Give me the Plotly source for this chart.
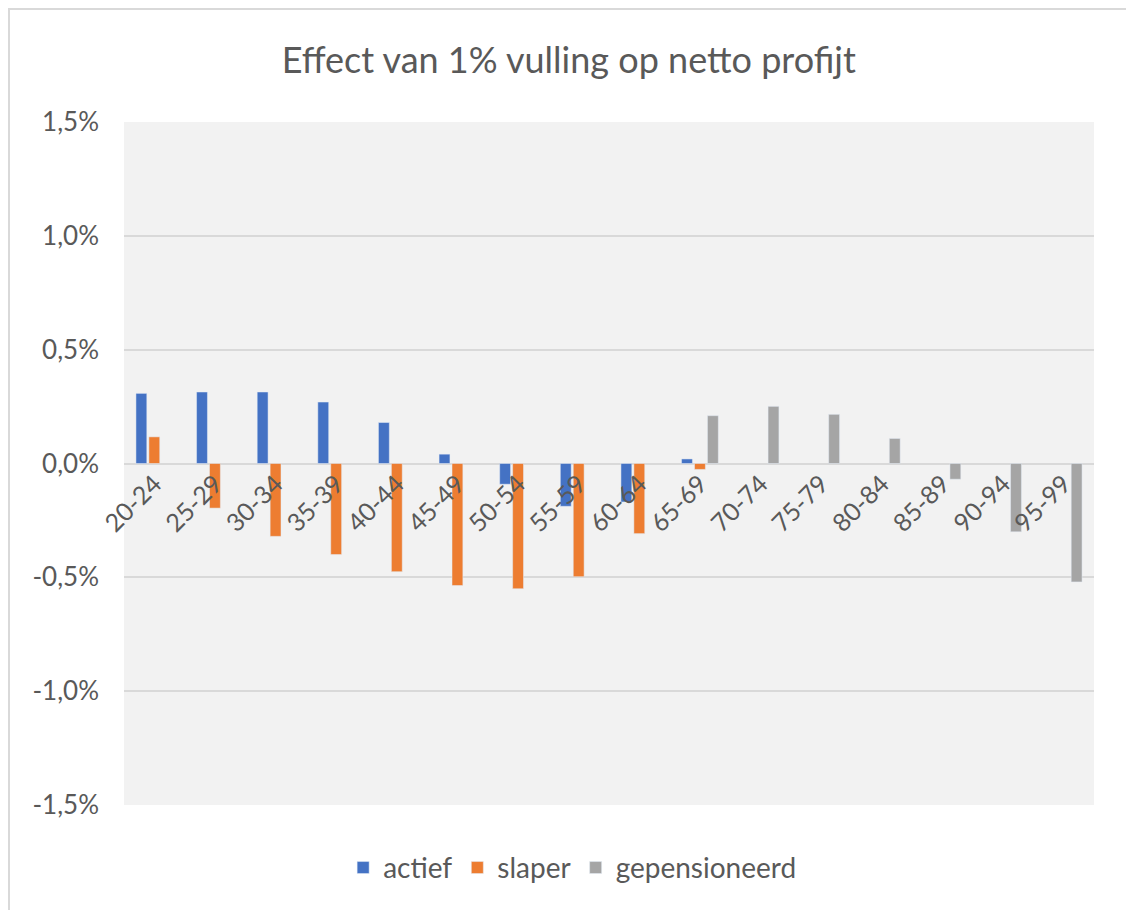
import plotly.graph_objects as go

# Age groups on the x axis
categories = ['20-24', '25-29', '30-34', '35-39', '40-44', '45-49', '50-54', '55-59',
              '60-64', '65-69', '70-74', '75-79', '80-84', '85-89', '90-94', '95-99']

# Effect in percent
actief = [0.308, 0.314, 0.314, 0.270, 0.180, 0.041, -0.091, -0.188,
          -0.169, 0.020, None, None, None, None, None, None]
slaper = [0.117, -0.196, -0.320, -0.400, -0.475, -0.536, -0.550, -0.497,
          -0.308, -0.026, None, None, None, None, None, None]
gepensioneerd = [None, None, None, None, None, None, None, None,
                 None, 0.210, 0.251, 0.216, 0.110, -0.069, -0.300, -0.520]

# Y tick labels (Dutch decimal comma)
y_ticks = [-1.5, -1.0, -0.5, 0.0, 0.5, 1.0, 1.5]
y_ticktext = ['-1,5%', '-1,0%', '-0,5%', '0,0%', '0,5%', '1,0%', '1,5%']

FONT = 'Lato'
GREY_TXT = '#595959'

W, H = 1126, 902
L, R, T, B = 116, 40, 114, 105
PW, PH = W - L - R, H - T - B

fig = go.Figure()
fig.add_trace(go.Bar(x=categories, y=actief, name='actief', marker_color='#4472C4'))
fig.add_trace(go.Bar(x=categories, y=slaper, name='slaper', marker_color='#ED7D31'))
fig.add_trace(go.Bar(x=categories, y=gepensioneerd, name='gepensioneerd', marker_color='#A5A5A5'))

fig.update_layout(
    width=W,
    height=H,
    barmode='group',
    bargap=0.36,
    bargroupgap=0.16,
    paper_bgcolor='white',
    plot_bgcolor='#F2F2F2',
    margin=dict(l=L, r=R, t=T, b=B),
    font=dict(family=FONT, color=GREY_TXT),
    title=dict(
        text='Effect van 1% vulling op netto profijt',
        x=0.498,
        xref='container',
        y=1 - 52 / H,
        yref='container',
        xanchor='center',
        yanchor='middle',
        font=dict(size=36, color=GREY_TXT, family=FONT),
    ),
    legend=dict(
        orientation='h',
        x=0.462,
        y=-0.092,
        xanchor='center',
        yanchor='middle',
        font=dict(size=28, color=GREY_TXT, family=FONT),
        itemwidth=30,
    ),
    showlegend=True,
)

fig.update_xaxes(
    anchor='free',
    position=0.5,
    tickangle=-45,
    showgrid=False,
    showline=False,
    ticks='',
    tickfont=dict(size=25, color=GREY_TXT, family=FONT),
)

fig.update_yaxes(
    range=[-1.5, 1.5],
    tickvals=y_ticks,
    ticktext=y_ticktext,
    showgrid=True,
    gridcolor='#D9D9D9',
    gridwidth=2,
    zeroline=True,
    zerolinecolor='#D9D9D9',
    zerolinewidth=2,
    showline=False,
    ticks='',
    ticklabelstandoff=24,
    tickfont=dict(size=26, color=GREY_TXT, family=FONT),
)

# outer chart border
fig.add_shape(
    type='rect', xref='paper', yref='paper',
    x0=(1 - L) / PW, x1=(W - 1 - L) / PW,
    y0=(PH + T - H - 10) / PH, y1=(PH + T - 1) / PH,
    line=dict(color='#D9D9D9', width=2),
    fillcolor='rgba(0,0,0,0)',
    layer='below',
)

fig.write_html("out.html")
